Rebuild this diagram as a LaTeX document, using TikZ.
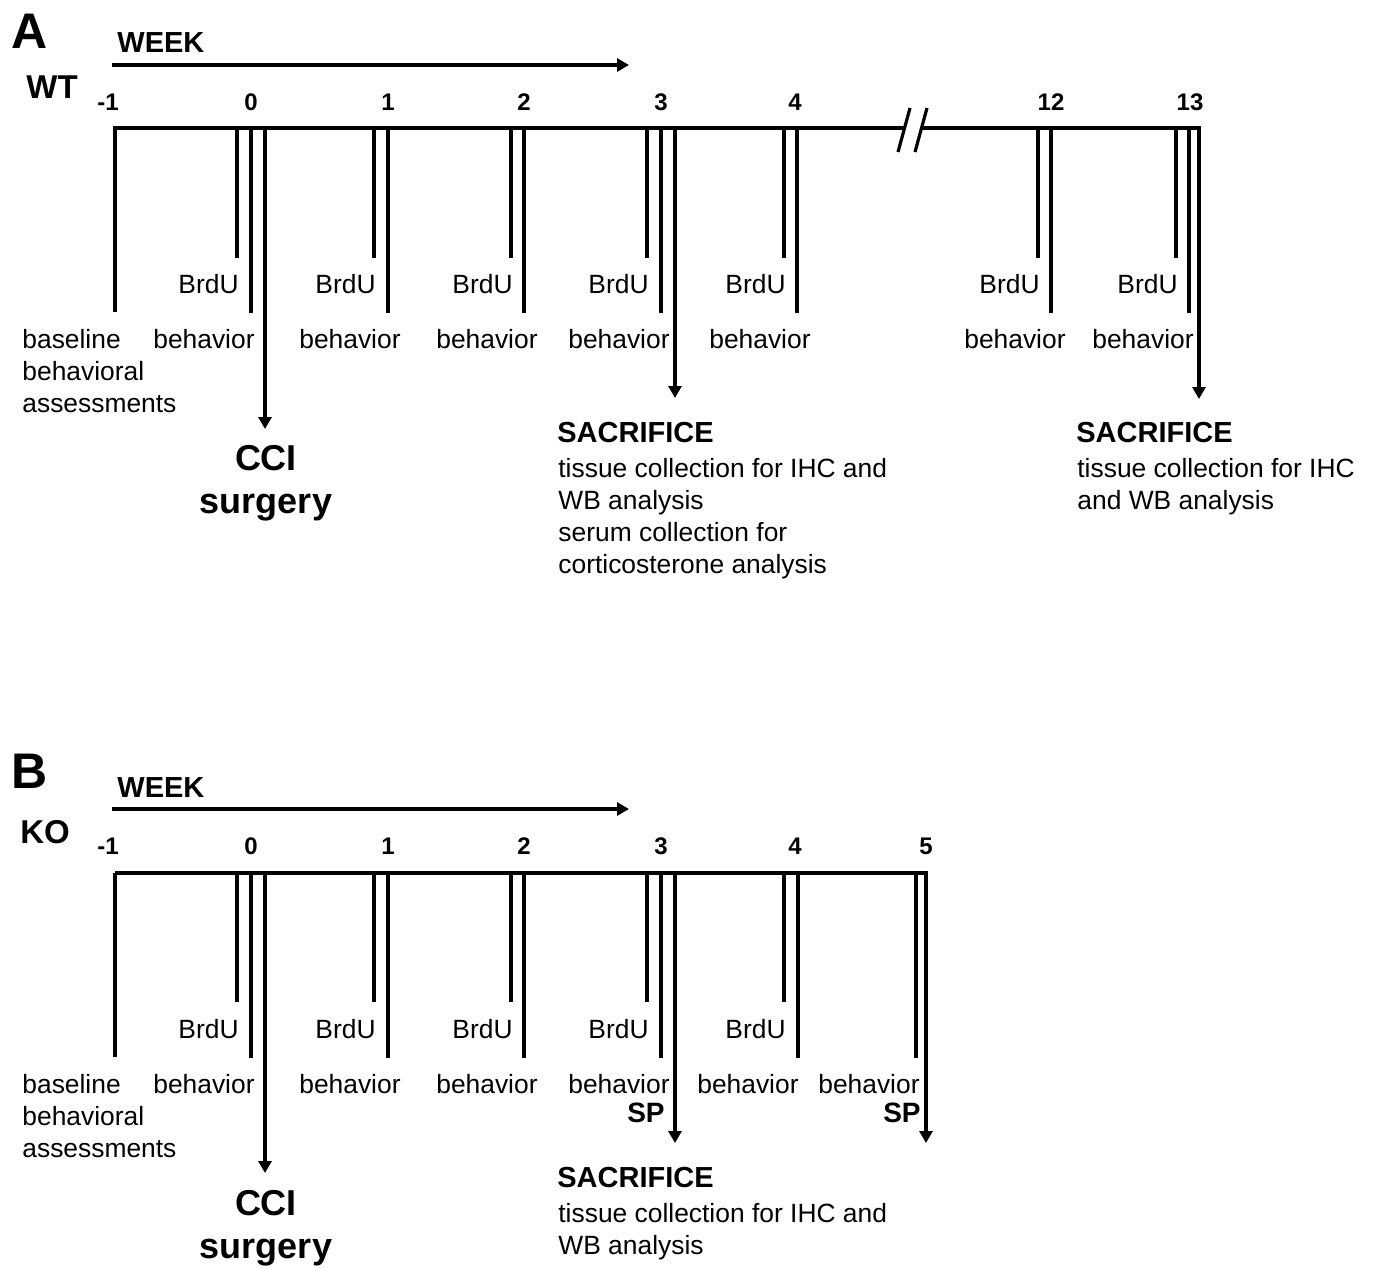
\documentclass[tikz,border=0pt]{standalone}
\usepackage{fontspec}
\setmainfont{Liberation Sans}
\usetikzlibrary{arrows.meta}
\begin{document}
\begin{tikzpicture}[x=0.5pt,y=-0.5pt,
  tl/.style={line width=1.6pt},
  tlarr/.style={line width=1.6pt,-{Triangle[width=6.5pt,length=6pt]}},
  txt/.style={inner sep=0pt,font=\fontsize{13.2}{15}\selectfont},
  txtr/.style={txt,anchor=base east},
  txtl/.style={txt,anchor=base west},
  num/.style={inner sep=0pt,font=\fontsize{12}{14}\selectfont\bfseries,anchor=base},
  weekl/.style={inner sep=0pt,font=\fontsize{14.5}{17}\selectfont\bfseries,anchor=base west},
  grp/.style={inner sep=0pt,font=\fontsize{16.5}{19}\selectfont\bfseries,anchor=base west},
  panel/.style={inner sep=0pt,font=\fontsize{25}{30}\selectfont\bfseries,anchor=base west},
  big/.style={inner sep=0pt,font=\fontsize{18}{21}\selectfont\bfseries,anchor=base},
  sac/.style={inner sep=0pt,font=\fontsize{14.5}{17}\selectfont\bfseries,anchor=base west},
  spl/.style={inner sep=0pt,font=\fontsize{14}{17}\selectfont\bfseries,anchor=base east},
]
\useasboundingbox (0,0) rectangle (1373,1269);

% ================= Panel A =================
\node[panel] (pA) at (11,48) {A};
\node[weekl] (wkA) at (117,53) {WEEK};
\coordinate (wkAs) at (112,65);
\coordinate (wkAe) at (629,65);
\draw[tlarr] (wkAs) -- (wkAe);
\node[grp] (wt) at (26,98) {WT};

\foreach \x/\t/\n in {108/-1/m1,251/0/w0,388/1/w1,524/2/w2,661/3/w3,795/4/w4,1051/12/w12,1190/13/w13}
  \node[num] (nA\n) at (\x,110) {\t};

% timeline
\draw[tl] (115,312) -- (115,128) -- (905,128);
\draw[tlarr] (921,128) -- (1199,128) -- (1199,399);
\draw[tl] (898,152) -- (910,108) (915,152) -- (927,108);
\foreach \x in {237,374,511,647,784,1038,1176}
  \draw[tl] (\x,128) -- (\x,258);
\foreach \x in {251,388,524,661,797,1051,1189}
  \draw[tl] (\x,128) -- (\x,313);
\draw[tlarr] (265,128) -- (265,429);
\draw[tlarr] (675,128) -- (675,398);

% labels
\foreach \x/\n in {239/0,376/1,513/2,649/3,786/4,1040/12,1178/13}
  \node[txtr] (bA\n) at (\x,293) {BrdU};
\foreach \x/\n in {255/0,401/1,538/2,670/3,811/4,1066/12,1194/13}
  \node[txtr] (hA\n) at (\x,348) {behavior};
\node[txtl] (baseA1) at (22,348) {baseline};
\node[txtl] (baseA2) at (22,380) {behavioral};
\node[txtl] (baseA3) at (22,412) {assessments};

\node[big] (cciA) at (266,470) {CCI};
\node[big] (surA) at (266,513) {surgery};

\node[sac] (sacA1) at (557,442) {SACRIFICE};
\node[txtl] at (558,477) {tissue collection for IHC and};
\node[txtl] at (558,509) {WB analysis};
\node[txtl] at (558,541) {serum collection for};
\node[txtl] at (558,573) {corticosterone analysis};

\node[sac] (sacA2) at (1076,442) {SACRIFICE};
\node[txtl] at (1077,477) {tissue collection for IHC};
\node[txtl] at (1077,509) {and WB analysis};

% ================= Panel B =================
\node[panel] (pB) at (11,788) {B};
\node[weekl] (wkB) at (117,797) {WEEK};
\coordinate (wkBs) at (112,809);
\coordinate (wkBe) at (629,809);
\draw[tlarr] (wkBs) -- (wkBe);
\node[grp] (ko) at (20,843) {KO};

\foreach \x/\t/\n in {108/-1/m1,251/0/w0,388/1/w1,524/2/w2,661/3/w3,795/4/w4,926/5/w5}
  \node[num] (nB\n) at (\x,854) {\t};

\draw[tl] (115,1057) -- (115,873);
\draw[tlarr] (115,873) -- (926,873) -- (926,1143);
\foreach \x in {237,374,511,647,784}
  \draw[tl] (\x,873) -- (\x,1002);
\foreach \x in {251,388,524,661,798,916}
  \draw[tl] (\x,873) -- (\x,1058);
\draw[tlarr] (265,873) -- (265,1173);
\draw[tlarr] (675,873) -- (675,1143);

\foreach \x/\n in {239/0,376/1,513/2,649/3,786/4}
  \node[txtr] (bB\n) at (\x,1038) {BrdU};
\foreach \x/\n in {255/0,401/1,538/2,670/3,799/4,920/5}
  \node[txtr] (hB\n) at (\x,1093) {behavior};
\node[txtl] (baseB1) at (22,1093) {baseline};
\node[txtl] (baseB2) at (22,1125) {behavioral};
\node[txtl] (baseB3) at (22,1157) {assessments};

\node[spl] (sp1) at (665,1122) {SP};
\node[spl] (sp2) at (921,1122) {SP};

\node[big] (cciB) at (266,1215) {CCI};
\node[big] (surB) at (266,1258) {surgery};

\node[sac] (sacB) at (557,1187) {SACRIFICE};
\node[txtl] at (558,1222) {tissue collection for IHC and};
\node[txtl] at (558,1254) {WB analysis};
\end{tikzpicture}
\end{document}
